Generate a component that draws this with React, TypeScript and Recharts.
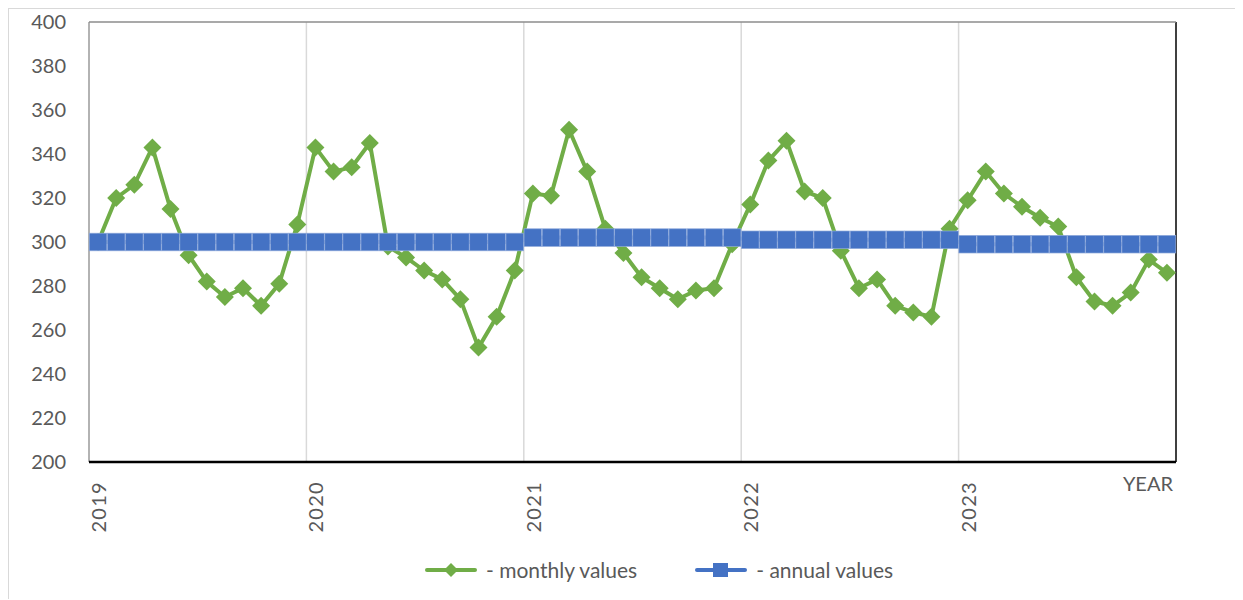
import { LineChart, Line, XAxis, YAxis, ReferenceLine, Legend } from "recharts"

const years = [2019, 2020, 2021, 2022, 2023]
const monthlyValues = [
  300, 320, 326, 343, 315, 294, 282, 275, 279, 271, 281, 308,
  343, 332, 334, 345, 298, 293, 287, 283, 274, 252, 266, 287,
  322, 321, 351, 332, 306, 295, 284, 279, 274, 278, 279, 299,
  317, 337, 346, 323, 320, 296, 279, 283, 271, 268, 266, 306,
  319, 332, 322, 316, 311, 307, 284, 273, 271, 277, 292, 286,
]
const annualValues = [300, 300, 302, 301, 299]
const yTicks = [200, 220, 240, 260, 280, 300, 320, 340, 360, 380, 400]
const yearBoundaries = [12, 24, 36, 48]
const seriesOrder = ["monthly", "annual"]

const GREEN = "#70AD47"
const BLUE = "#4472C4"
const TEXT = "#595959"
const FONT = "Lato, 'Open Sans', sans-serif"

// one row per month, x at the middle of its slot (Excel "between tick marks")
const data = monthlyValues.map((v, i) => ({
  t: i + 0.5,
  monthly: v,
  annual: annualValues[Math.floor(i / 12)],
}))
const yearTicks = years.map((_, i) => i * 12 + 0.5)

const Diamond = (props: any) => {
  const { cx, cy } = props
  if (cx == null || cy == null) return null
  const r = 9
  return <polygon points={`${cx},${cy - r} ${cx + r},${cy} ${cx},${cy + r} ${cx - r},${cy}`} fill={GREEN} />
}

const Square = (props: any) => {
  const { cx, cy } = props
  if (cx == null || cy == null) return null
  const s = 17.6
  return <rect x={cx - s / 2} y={cy - s / 2} width={s} height={s} fill={BLUE} stroke="#8ea9db" strokeWidth={0.7} />
}

const YearTick = (props: any) => {
  const { x, y, payload } = props
  const ty = y + 17
  return (
    <text x={x} y={ty} transform={`rotate(-90 ${x} ${ty})`} textAnchor="end" dominantBaseline="central"
      fill={TEXT} fontSize={20} fontFamily={FONT} letterSpacing={1.3}>
      {years[Math.floor(payload.value / 12)]}
    </text>
  )
}

const YearLabel = (props: any) => {
  const { viewBox } = props
  if (!viewBox) return null
  return (
    <text x={viewBox.x + viewBox.width - 3} y={viewBox.y + 29} textAnchor="end" fill={TEXT} fontSize={20} fontFamily={FONT}>
      YEAR
    </text>
  )
}

const renderLegend = (props: any) => {
  const items = [...(props.payload || [])].sort(
    (a: any, b: any) => seriesOrder.indexOf(a.dataKey) - seriesOrder.indexOf(b.dataKey)
  )
  return (
    <div style={{ height: 57, display: "flex", alignItems: "center", paddingLeft: 416, paddingBottom: 2, boxSizing: "border-box" }}>
      {items.map((it: any, i: number) => (
        <div key={i} style={{ display: "flex", alignItems: "center", marginRight: 58 }}>
          <svg width={52} height={20}>
            <line x1={2} y1={10} x2={50} y2={10} stroke={it.color} strokeWidth={4} strokeLinecap="round" />
            {it.dataKey === "monthly" ? (
              <polygon points="26,3 33,10 26,17 19,10" fill={it.color} />
            ) : (
              <rect x={18} y={3} width={15} height={14} fill={it.color} />
            )}
          </svg>
          <span style={{ marginLeft: 9, color: TEXT, fontSize: 21, fontFamily: FONT }}>{it.value}</span>
        </div>
      ))}
    </div>
  )
}

export default function App() {
  return (
    <div style={{ width: 1234, height: 590, border: "1px solid #d9d9d9", borderRight: "none", borderBottom: "none", background: "#fff" }}>
      <LineChart width={1234} height={590} data={data} margin={{ top: 13, right: 67, left: 20, bottom: 0 }}>
        <XAxis
          dataKey="t"
          type="number"
          domain={[0, 60]}
          ticks={yearTicks}
          interval={0}
          tick={<YearTick />}
          tickLine={false}
          tickSize={0}
          axisLine={{ stroke: "#000", strokeWidth: 2.5 }}
          height={80}
          label={<YearLabel />}
        />
        <YAxis
          domain={[200, 400]}
          ticks={yTicks}
          interval={0}
          width={60}
          tickLine={false}
          axisLine={false}
          tickSize={0}
          tickMargin={23}
          tick={{ fill: TEXT, fontSize: 20, fontFamily: FONT }}
        />
        {yearBoundaries.map((b) => (
          <ReferenceLine key={b} x={b} stroke="#d9d9d9" strokeWidth={1.5} />
        ))}
        <ReferenceLine x={0} stroke="#9a9a9a" strokeWidth={1.5} />
        <ReferenceLine x={60} stroke="#404040" strokeWidth={2} />
        <ReferenceLine y={400} stroke="#8c8c8c" strokeWidth={1.5} />
        <Legend verticalAlign="bottom" height={57} content={renderLegend} wrapperStyle={{ left: 0, width: 1234 }} />
        <Line
          dataKey="monthly"
          name="- monthly values"
          stroke={GREEN}
          strokeWidth={4}
          dot={<Diamond />}
          activeDot={false}
          isAnimationActive={false}
        />
        <Line
          dataKey="annual"
          name="- annual values"
          stroke={BLUE}
          strokeWidth={4}
          dot={<Square />}
          activeDot={false}
          isAnimationActive={false}
        />
      </LineChart>
    </div>
  )
}
